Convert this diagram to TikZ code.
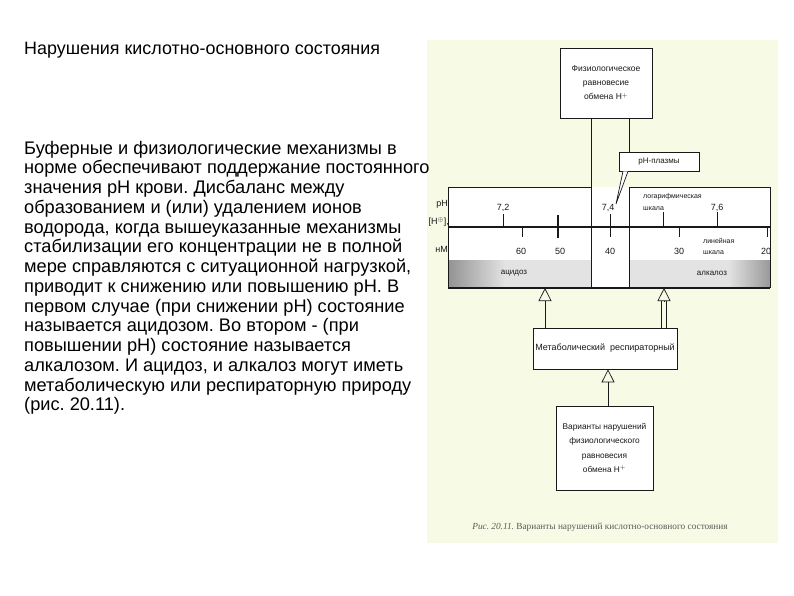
\documentclass[tikz,border=0pt]{standalone}
\usepackage{fontspec}
\setmainfont{Liberation Sans}
\newfontfamily\capfont{Liberation Serif}
\usetikzlibrary{arrows.meta}
\definecolor{panelbg}{RGB}{247,250,228}
\definecolor{ink}{RGB}{25,25,25}
\frenchspacing
\tikzset{
  bodyline/.style={anchor=base west, inner sep=0pt, font=\fontsize{18.2}{20}\selectfont},
  diagbox/.style={draw=ink, line width=0.7pt, fill=white, align=center, text=ink, inner sep=1pt},
  lab/.style={text=ink, inner sep=0pt, font=\fontsize{9}{10}\selectfont},
  smalllab/.style={text=ink, inner sep=0pt, anchor=base west, font=\fontsize{7}{8}\selectfont},
  tickmark/.style={line width=0.8pt, draw=ink},
  frameline/.style={line width=0.7pt, draw=ink},
  openarrow/.style={-{Triangle[open, length=13pt, width=13pt, line width=0.7pt]}, line width=0.7pt, draw=ink},
}
\begin{document}
\begin{tikzpicture}[x=1pt,y=-1pt]
\useasboundingbox (0,0) rectangle (794,595);
\fill[white] (0,0) rectangle (794,595);
% panel
\fill[panelbg] (427,40) rectangle (778,543);

% title
\node[anchor=base west, inner sep=0pt, font=\fontsize{17.9}{19}\selectfont] (title) at (24,54) {Нарушения кислотно-основного состояния};

% body text
\foreach \t [count=\i from 0] in {
  {Буферные и физиологические механизмы в},
  {норме обеспечивают поддержание постоянного},
  {значения pH крови. Дисбаланс между},
  {образованием и (или) удалением ионов},
  {водорода, когда вышеуказанные механизмы},
  {стабилизации его концентрации не в полной},
  {мере справляются с ситуационной нагрузкой,},
  {приводит к снижению или повышению pH. В},
  {первом случае (при снижении pH) состояние},
  {называется ацидозом. Во втором - (при},
  {повышении pH) состояние называется},
  {алкалозом. И ацидоз, и алкалоз могут иметь},
  {метаболическую или респираторную природу},
  {(рис. 20.11).}}
  \node[bodyline] (b\i) at (24,154+19.75*\i) {\t};

% scale interior
\fill[white] (448,187) rectangle (770,288);
\fill[gray!22] (448,260) rectangle (591,287);
\shade[left color=gray!85, right color=gray!22] (448,260) rectangle (505,287);
\fill[gray!22] (629,260) rectangle (770,287);
\shade[left color=gray!22, right color=gray!80] (728,260) rectangle (770,287);
\node[draw=none, minimum width=322pt, minimum height=101pt, anchor=north west, inner sep=0pt] (scale) at (448,187) {};

% boxes
\node[diagbox, minimum width=92pt, minimum height=70pt, font=\fontsize{8.5}{14}\selectfont] (top) at (606,83) {Физиологическое\\равновесие\\обмена H$^{+}$};
\node[diagbox, minimum width=80pt, minimum height=19pt, font=\fontsize{8}{10}\selectfont] (ph) at (659,161.5) {pH-плазмы};
\node[diagbox, minimum width=144pt, minimum height=41pt, font=\fontsize{9}{11}\selectfont] (meta) at (605,348.5) {Метаболический\ \ респираторный};
\node[diagbox, minimum width=97pt, minimum height=84pt, font=\fontsize{8.3}{14.5}\selectfont] (bot) at (604.5,448) {Варианты нарушений\\физиологического\\равновесия\\обмена H$^{+}$};

% gap lines
\coordinate (gl) at (591,288);
\coordinate (gr) at (629,288);
\draw[frameline] (top.south -| gl) -- (gl);
\draw[frameline] (top.south -| gr) -- (ph.north -| gr);
\draw[frameline] (629,187) -- (gr);

% scale frame
\draw[frameline] (448,187) -- (591,187);
\draw[frameline] (629,187) -- (770,187);
\draw[frameline] (448,187) -- (448,288);
\draw[frameline] (770,187) -- (770,288);
\draw[line width=1.3pt, draw=ink] (448,288) -- (770,288);
\draw[line width=1.7pt, draw=ink] (448,227) -- (770,227);

% callout
\coordinate (tip) at (616,204);
\draw[frameline, fill=white] ([xshift=-36pt]ph.south) -- (tip) -- ([xshift=-31pt]ph.south);

% ticks above (pH)
\draw[tickmark] (503,214) -- (503,227);
\draw[tickmark] (610,214) -- (610,227);
\draw[tickmark] (663,212) -- (663,227);
\draw[tickmark] (717,212) -- (717,227);
% ticks below (nM)
\draw[tickmark] (522,227) -- (522,237);
\draw[line width=1.3pt, draw=ink] (558,215) -- (558,238);
\draw[tickmark] (610,227) -- (610,237);
\draw[tickmark] (679,227) -- (679,237);
\draw[tickmark] (767,227) -- (767,237);

% axis labels
\node[lab, anchor=east] (lph) at (448,204) {pH};
\node[lab, anchor=east] (lh) at (449,222) {[H$^{\oplus}$],};
\node[lab, anchor=east] (lnm) at (448,249) {нМ};

\node[lab] (v72) at (503,208) {7,2};
\node[lab] (v74) at (608,208) {7,4};
\node[lab] (v76) at (717,208) {7,6};
\node[lab] (n60) at (521,251) {60};
\node[lab] (n50) at (560,251) {50};
\node[lab] (n40) at (610,251) {40};
\node[lab] (n30) at (679,251) {30};
\node[lab] (n20) at (766,251) {20};

\node[smalllab] (lg1) at (643,198) {логарифмическая};
\node[smalllab] (lg2) at (643,210) {шкала};
\node[smalllab] (ln1) at (703,243) {линейная};
\node[smalllab] (ln2) at (703,254) {шкала};

\node[lab, font=\fontsize{8}{10}\selectfont] (acid) at (514,273) {ацидоз};
\node[lab, font=\fontsize{8}{10}\selectfont] (alk) at (712,273) {алкалоз};

% arrows
\coordinate (la) at (545,288);
\coordinate (ra) at (664,288);
\coordinate (rb1) at (661.5,301);
\coordinate (rb2) at (666.5,301);
\draw[openarrow] (meta.north -| la) -- (la);
\draw[frameline] (meta.north -| rb1) -- (rb1);
\draw[frameline] (meta.north -| rb2) -- (rb2);
\draw[openarrow] ([yshift=-13pt]ra) -- (ra);
\coordinate (ba) at (608,380);
\draw[openarrow] (bot.north -| ba) -- (meta.south -| ba);

% caption
\node[inner sep=0pt, text=gray!70!black, font=\capfont\fontsize{9.3}{11}\selectfont] (cap) at (600,527) {\textit{Рис. 20.11.} Варианты нарушений кислотно-основного состояния};
\end{tikzpicture}
\end{document}
